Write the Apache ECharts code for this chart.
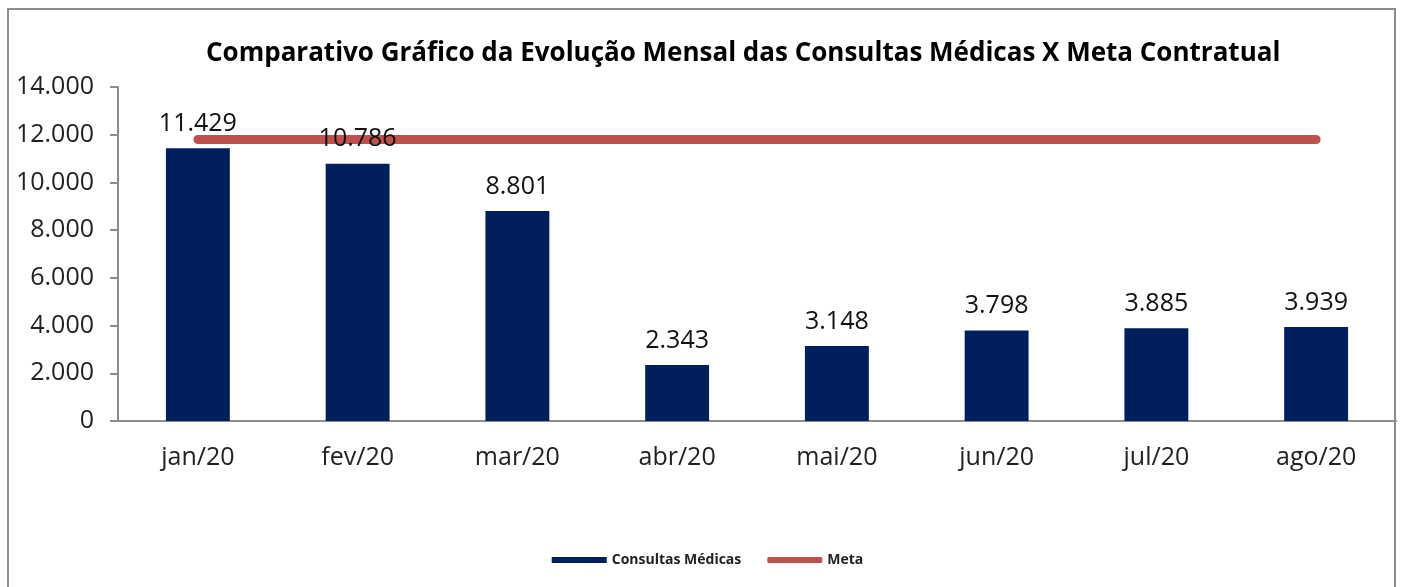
<!DOCTYPE html>
<html>
<head>
<meta charset="utf-8">
<script src="https://cdn.jsdelivr.net/npm/echarts@6/dist/echarts.min.js"></script>
<style>
  html, body { margin: 0; padding: 0; background: #fff; }
  #frame { position: absolute; left: 7px; top: 8px; width: 1389px; height: 600px; border: 2px solid #8c8c8c; box-sizing: border-box; }
  #chart { position: absolute; left: 0; top: 0; width: 1415px; height: 587px; }
</style>
</head>
<body>
<div id="frame"></div>
<div id="chart"></div>
<script>
// Data
const months = ["jan/20", "fev/20", "mar/20", "abr/20", "mai/20", "jun/20", "jul/20", "ago/20"];
const consultas = [11429, 10786, 8801, 2343, 3148, 3798, 3885, 3939];
const meta = [11800, 11800, 11800, 11800, 11800, 11800, 11800, 11800];

// 11429 -> "11.429"
const fmt = (v) => String(Math.round(v)).replace(/\B(?=(\d{3})+(?!\d))/g, ".");

const font = "'Open Sans', 'Noto Sans', sans-serif";
const chart = echarts.init(document.getElementById("chart"));

chart.setOption({
  animation: false,
  title: {
    text: "Comparativo Gráfico da Evolução Mensal das Consultas Médicas X Meta Contratual",
    left: 201,
    top: 36,
    textStyle: { fontFamily: font, fontSize: 26, fontWeight: "bold", color: "#000" },
  },
  legend: {
    bottom: 15,
    left: "center",
    itemGap: 26,
    itemWidth: 55,
    itemHeight: 6,
    textStyle: { fontFamily: font, fontSize: 14, fontWeight: "bold", color: "#222" },
    data: [
      { name: "Consultas Médicas", icon: "rect" },
      { name: "Meta", icon: "roundRect" },
    ],
  },
  grid: { left: 118, right: 19, top: 87, bottom: 166 },
  xAxis: {
    type: "category",
    data: months,
    axisLine: { lineStyle: { color: "#8c8c8c", width: 2 } },
    axisTick: { length: 8, lineStyle: { color: "#8c8c8c", width: 2 } },
    axisLabel: { fontFamily: font, fontSize: 25, color: "#222", margin: 24 },
  },
  yAxis: {
    type: "value",
    min: 0,
    max: 14000,
    interval: 2000,
    splitLine: { show: false },
    axisLine: { show: true, lineStyle: { color: "#8c8c8c", width: 2 } },
    axisTick: { show: true, length: 8, lineStyle: { color: "#8c8c8c", width: 2 } },
    axisLabel: { fontFamily: font, fontSize: 25, color: "#222", margin: 24, formatter: fmt },
  },
  series: [
    {
      name: "Meta",
      type: "line",
      data: meta,
      symbol: "none",
      itemStyle: { color: "#c0504d" },
      lineStyle: { color: "#c0504d", width: 9, cap: "round" },
      z: 1,
    },
    {
      name: "Consultas Médicas",
      type: "bar",
      data: consultas,
      barWidth: "40%",
      itemStyle: { color: "#001f5c" },
      label: {
        show: true,
        position: "top",
        distance: 12,
        fontFamily: font,
        fontSize: 25,
        color: "#111",
        formatter: (p) => fmt(p.value),
      },
      z: 2,
    },
  ],
});
</script>
</body>
</html>
